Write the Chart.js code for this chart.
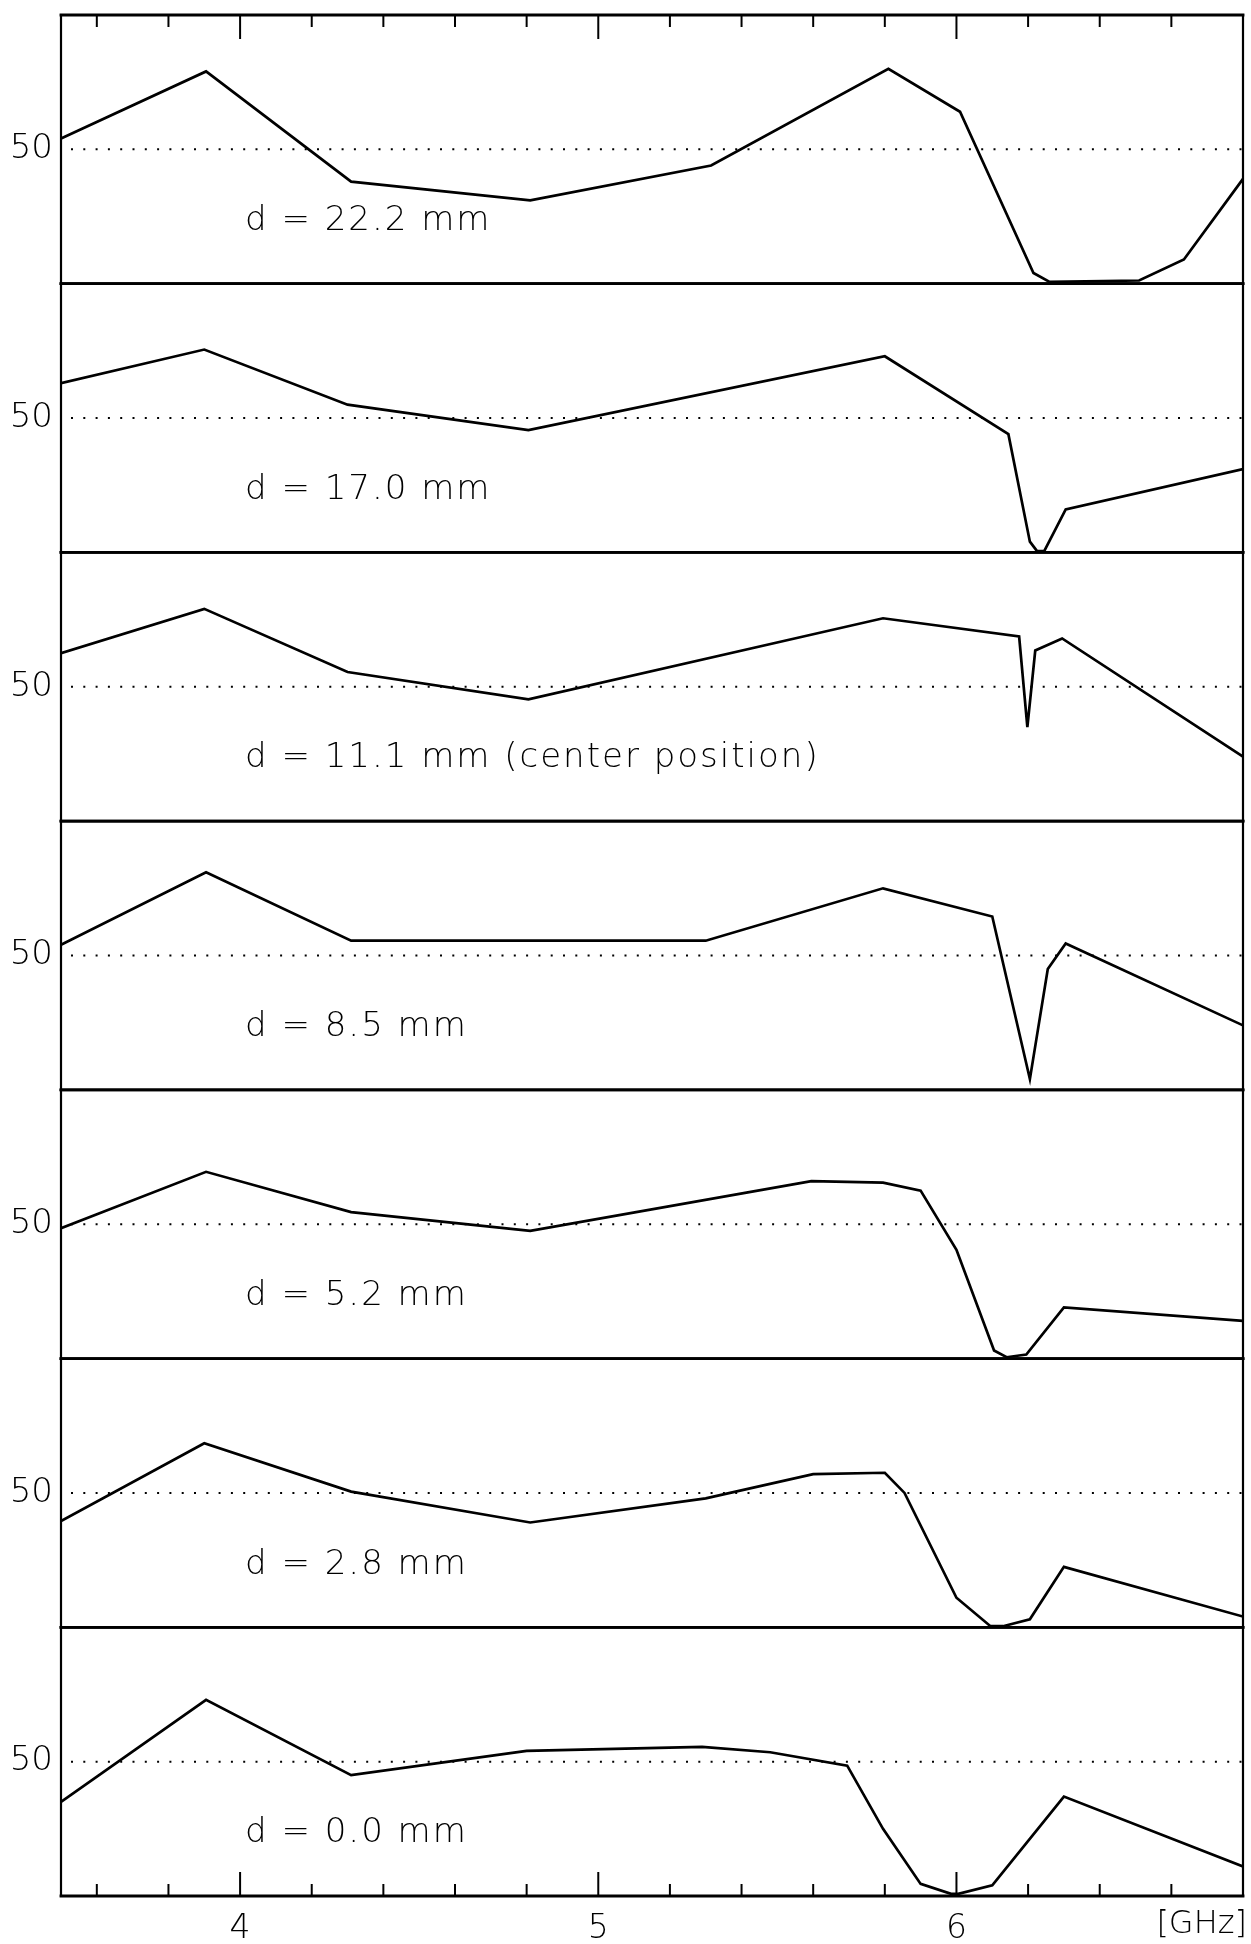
<!DOCTYPE html>
<html>
<head>
<meta charset="utf-8">
<script src="https://cdn.jsdelivr.net/npm/chart.js@4/dist/chart.umd.min.js"></script>
<style>
html,body{margin:0;padding:0;background:#fff;}
#wrap{width:1251px;height:1944px;position:relative;}
canvas{display:block;}
</style>
</head>
<body>
<div id="wrap"><canvas id="c" width="1251" height="1944"></canvas></div>
<script>
// ---- data ----
const panelLabels = ['d = 22.2 mm', 'd = 17.0 mm', 'd = 11.1 mm (center position)', 'd = 8.5 mm', 'd = 5.2 mm', 'd = 2.8 mm', 'd = 0.0 mm'];

const freq222 = [3.5, 3.905, 4.31, 4.81, 5.315, 5.81, 6.01, 6.215, 6.26, 6.51, 6.635, 6.8];
const val222  = [54, 79, 38, 31, 44, 80, 64, 4, 0.7, 1.2, 9, 39];

const freq170 = [3.5, 3.90, 4.30, 4.805, 5.80, 6.145, 6.205, 6.225, 6.245, 6.305, 6.8];
const val170  = [63, 75.5, 55, 45.5, 73, 44, 4, 0.5, 0.5, 16, 31];

const freq111 = [3.5, 3.90, 4.30, 4.805, 5.795, 6.175, 6.198, 6.22, 6.295, 6.8];
const val111  = [62.5, 79, 55.5, 45.3, 75.5, 68.7, 35, 63.5, 68, 24];

const freq085 = [3.5, 3.905, 4.31, 5.30, 5.795, 6.10, 6.205, 6.255, 6.305, 6.8];
const val085  = [54, 81, 55.5, 55.5, 75, 64.5, 4, 45, 54.5, 24];

const freq052 = [3.5, 3.905, 4.31, 4.81, 5.595, 5.795, 5.90, 6.0, 6.105, 6.14, 6.195, 6.30, 6.8];
const val052  = [48.5, 69.5, 54.5, 47.5, 66, 65.5, 62.5, 40.5, 3, 0.5, 1.5, 19, 14];

const freq028 = [3.5, 3.90, 4.31, 4.81, 5.30, 5.60, 5.80, 5.855, 6.0, 6.095, 6.13, 6.205, 6.30, 6.8];
const val028  = [39.5, 68.5, 50.5, 39, 48, 57, 57.5, 50, 11, 0.4, 0.4, 3, 22.5, 4];

const freq000 = [3.5, 3.905, 4.31, 4.80, 5.29, 5.48, 5.695, 5.795, 5.90, 5.985, 6.005, 6.10, 6.30, 6.8];
const val000  = [35, 73, 45, 54, 55.5, 53.5, 48.5, 25, 4.5, 0.8, 0.8, 4, 37, 11];

const xRange = [3.5, 6.8];
const yRange = [0, 100];
const refLevel = 50;
const yTickLabels = [50];
const xTickLabels = [4, 5, 6];
const xMinorTicks = [3.6, 3.8, 4.0, 4.2, 4.4, 4.6, 4.8, 5.0, 5.2, 5.4, 5.6, 5.8, 6.0, 6.2, 6.4, 6.6];
const xMajorTicks = [4, 5, 6];
const xUnit = '[GHz]';

const panelFreqs = [freq222, freq170, freq111, freq085, freq052, freq028, freq000];
const panelVals  = [val222, val170, val111, val085, val052, val028, val000];

// ---- chart construction ----
const FONT = '"DejaVu Sans", "Liberation Sans", sans-serif';
const N = panelLabels.length;

const datasets = [];
for (let i = 0; i < N; i++) {
  datasets.push({
    label: panelLabels[i],
    data: panelFreqs[i].map((f, j) => ({x: f, y: panelVals[i][j]})),
    yAxisID: 'y' + i,
    borderColor: '#000',
    borderWidth: 2.7,
    pointRadius: 0,
    fill: false,
    tension: 0
  });
  datasets.push({
    label: 'ref' + i,
    data: xRange.map(x => ({x: x, y: refLevel})),
    yAxisID: 'y' + i,
    borderColor: '#000',
    borderWidth: 2,
    borderDash: [2, 10.3],
    borderDashOffset: -10,
    pointRadius: 0,
    fill: false
  });
}

const scales = {
  x: {
    type: 'linear',
    position: 'bottom',
    min: xRange[0],
    max: xRange[1],
    afterBuildTicks: s => { s.ticks = xTickLabels.map(v => ({value: v})); },
    ticks: {
      font: {family: FONT, size: 33, weight: 200},
      color: '#000',
      padding: 14,
      maxRotation: 0,
      autoSkip: false,
      callback: v => String(v)
    },
    grid: {display: false, drawTicks: false},
    border: {display: false},
    afterFit: s => { s.height = 48; s.paddingLeft = 0; s.paddingRight = 0; }
  }
};
// left boxes of a stack are placed in reverse definition order: define the bottom panel first
for (let i = N - 1; i >= 0; i--) {
  scales['y' + i] = {
    type: 'linear',
    position: 'left',
    stack: 'panels',
    stackWeight: 1,
    min: yRange[0],
    max: yRange[1],
    afterBuildTicks: s => { s.ticks = yTickLabels.map(v => ({value: v})); },
    ticks: {
      font: {family: FONT, size: 34, weight: 200},
      color: '#000',
      padding: 8,
      autoSkip: false,
      callback: v => String(v)
    },
    grid: {display: false, drawTicks: false},
    border: {display: false},
    afterFit: s => { s.width = 61; s.paddingTop = 0; s.paddingBottom = 0; }
  };
}

const framePlugin = {
  id: 'frame',
  beforeDraw(chart) {
    const ctx = chart.ctx;
    ctx.save();
    ctx.fillStyle = '#fff';
    ctx.fillRect(0, 0, chart.width, chart.height);
    ctx.restore();
  },
  afterDatasetsDraw(chart) {
    const {ctx, chartArea: a, scales: sc} = chart;
    const xs = sc.x;
    const line = (x1, y1, x2, y2) => { ctx.beginPath(); ctx.moveTo(x1, y1); ctx.lineTo(x2, y2); ctx.stroke(); };
    ctx.save();
    ctx.strokeStyle = '#000';
    ctx.lineCap = 'square';
    ctx.lineWidth = 2.8;
    for (let i = 0; i < N; i++) {
      const ys = sc['y' + i];
      for (const v of yRange) {
        const y = ys.getPixelForValue(v);
        line(a.left, y, a.right, y);
      }
    }
    ctx.lineWidth = 2.2;
    line(a.left, a.top, a.left, a.bottom);
    line(a.right, a.top, a.right, a.bottom);
    // inward ticks, top and bottom
    ctx.lineWidth = 2;
    ctx.lineCap = 'butt';
    for (const t of xMinorTicks) {
      const x = xs.getPixelForValue(t);
      const len = xMajorTicks.includes(t) ? 24 : 12;
      line(x, a.top, x, a.top + len);
      line(x, a.bottom, x, a.bottom - len);
    }
    // panel labels
    ctx.fillStyle = '#000';
    ctx.font = '200 34px ' + FONT;
    if ('letterSpacing' in ctx) ctx.letterSpacing = '2px';
    ctx.textAlign = 'left';
    ctx.textBaseline = 'alphabetic';
    for (let i = 0; i < N; i++) {
      const ys = sc['y' + i];
      const y = ys.top + 0.8 * (ys.bottom - ys.top);
      ctx.fillText(panelLabels[i], a.left + 184, y);
    }
    if ('letterSpacing' in ctx) ctx.letterSpacing = '0px';
    // unit
    ctx.font = '200 32px ' + FONT;
    ctx.textAlign = 'right';
    ctx.fillText(xUnit, a.right + 4, a.bottom + 37);
    ctx.restore();
  }
};

new Chart(document.getElementById('c'), {
  type: 'line',
  data: {datasets: datasets},
  options: {
    responsive: false,
    devicePixelRatio: 1,
    animation: false,
    layout: {padding: {left: 0, right: 8, top: 15, bottom: 0}},
    plugins: {legend: {display: false}, tooltip: {enabled: false}, title: {display: false}},
    scales: scales
  },
  plugins: [framePlugin]
});
</script>
</body>
</html>
